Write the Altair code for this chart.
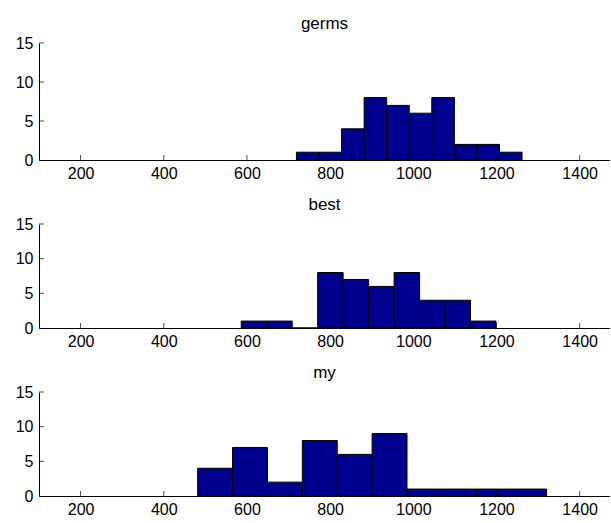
import altair as alt
import pandas as pd

# ---- data (MATLAB hist, 10 bins each) ----
germs_edges = [719.0, 773.3, 827.5, 881.8, 936.0, 990.3, 1044.5, 1098.8, 1153.0, 1207.3, 1261.5]
germs_counts = [1, 1, 4, 8, 7, 6, 8, 2, 2, 1]

best_edges = [586.3, 647.6, 708.8, 770.1, 831.3, 892.6, 953.9, 1015.1, 1076.4, 1137.6, 1198.9]
best_counts = [1, 1, 0, 8, 7, 6, 8, 4, 4, 1]

my_edges = [481.5, 565.4, 649.3, 733.2, 817.1, 901.0, 984.9, 1068.8, 1152.7, 1236.6, 1320.5]
my_counts = [4, 7, 2, 8, 6, 9, 1, 1, 1, 1]

panel_names = ["germs", "best", "my"]
x_tick_values = [200, 400, 600, 800, 1000, 1200, 1400]
y_tick_values = [0, 5, 10, 15]

FONT = "Liberation Sans"
BAR_FILL = "#00008F"
X_DOMAIN = [100, 1473]
Y_DOMAIN = [0, 15]
PLOT_W = 571

X_AXIS = alt.Axis(values=x_tick_values, format="d", ticks=False, grid=False,
                  labelPadding=5, labelFontSize=16, labelFont=FONT,
                  labelColor="black", domainColor="black", domainWidth=1,
                  labelFlush=False, labelOverlap=False, title=None)
Y_AXIS = alt.Axis(values=y_tick_values, format="d", ticks=False, grid=False,
                  labelPadding=6, labelFontSize=16, labelFont=FONT,
                  labelColor="black", domainColor="black", domainWidth=1,
                  labelFlush=False, labelOverlap=False, labelBound=False,
                  title=None)


def panel(name, edges, counts, height, title_offset):
    bars_df = pd.DataFrame({"lo": edges[:-1], "hi": edges[1:], "count": counts})
    xs = alt.Scale(domain=X_DOMAIN, nice=False, zero=False)
    ys = alt.Scale(domain=Y_DOMAIN, nice=False, zero=True)

    bars = alt.Chart(bars_df).mark_rect(
        fill=BAR_FILL, stroke="black", strokeWidth=1
    ).encode(
        x=alt.X("lo:Q", scale=xs, axis=X_AXIS),
        x2="hi:Q",
        y=alt.Y("count:Q", scale=ys, axis=Y_AXIS),
        y2=alt.datum(0),
    )

    xt = alt.Chart(pd.DataFrame({"v": x_tick_values})).mark_tick(
        orient="vertical", size=5, thickness=1, color="black", yOffset=-2.5
    ).encode(
        x=alt.X("v:Q", scale=xs, axis=X_AXIS),
        y=alt.datum(0, scale=ys, axis=Y_AXIS),
    )

    yt = alt.Chart(pd.DataFrame({"v": y_tick_values[1:]})).mark_tick(
        orient="horizontal", size=5, thickness=1, color="black", xOffset=2.5
    ).encode(
        y=alt.Y("v:Q", scale=ys, axis=Y_AXIS),
        x=alt.datum(X_DOMAIN[0], scale=xs, axis=X_AXIS),
    )

    return alt.layer(bars, xt, yt).properties(
        width=PLOT_W,
        height=height,
        title=alt.TitleParams(text=name, fontSize=17, font=FONT,
                              fontWeight="normal", color="black",
                              offset=title_offset, anchor="middle"),
    )


chart = alt.vconcat(
    panel(panel_names[0], germs_edges, germs_counts, 117, 2),
    panel(panel_names[1], best_edges, best_counts, 104, 2),
    panel(panel_names[2], my_edges, my_counts, 104, 2),
    spacing=15,
).properties(
    padding={"left": 15, "top": 15, "right": 0, "bottom": 0},
    background="white",
).configure_view(stroke=None)

chart.save("out.html", embed_options={"renderer": "svg", "actions": False})
